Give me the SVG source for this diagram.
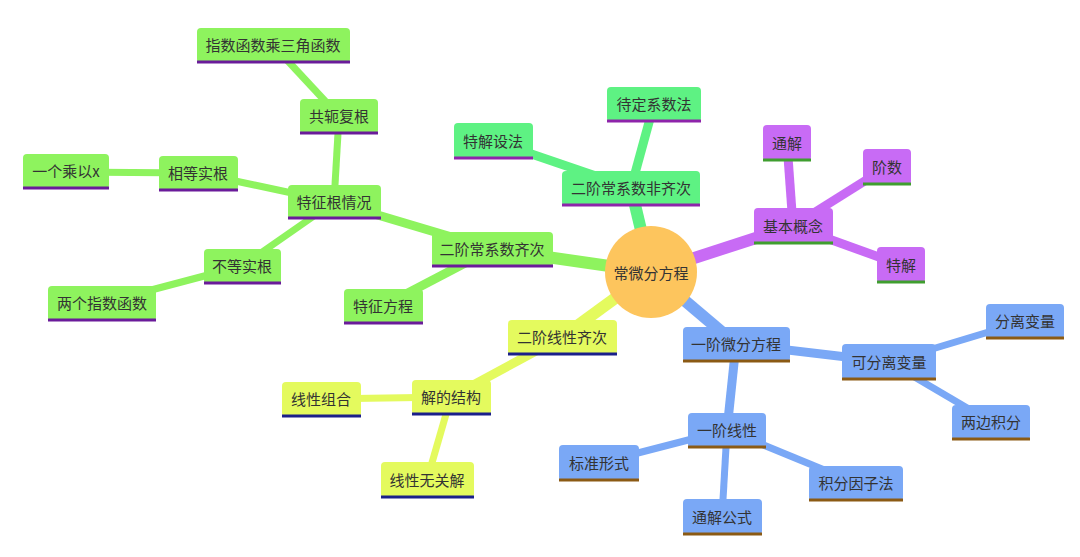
<svg xmlns="http://www.w3.org/2000/svg" width="1080" height="557" viewBox="0 0 1080 557">
<style>
text{font-family:"Noto Sans CJK SC","Liberation Sans",sans-serif;font-size:15px;fill:#333;text-anchor:middle;dominant-baseline:central}
.g rect{fill:#8ef35e}.g line{stroke:#6a1b9a}
.m rect{fill:#5ef283}.m line{stroke:#8e24aa}
.p rect{fill:#c86bf5}.p line{stroke:#3f9e2f}
.b rect{fill:#7aa8f6}.b line{stroke:#8b5a14}
.y rect{fill:#e4fa5e}.y line{stroke:#1a1f8a}
.n line{stroke-width:3}
#connectors line{fill:none;stroke-linecap:butt}
.cg{stroke:#8ef35e}.cm{stroke:#5ef283}.cp{stroke:#c86bf5}.cb{stroke:#7aa8f6}.cy{stroke:#e4fa5e}
.l1{stroke-width:12}.l2{stroke-width:9}.l3{stroke-width:7}
</style>
<rect width="1080" height="557" fill="#fff"/>
<g id="connectors">
<line class="cm l1" x1="651" y1="272" x2="631" y2="188"/>
<line class="cg l1" x1="651" y1="272" x2="492" y2="249"/>
<line class="cp l1" x1="651" y1="272" x2="793" y2="226"/>
<line class="cb l1" x1="651" y1="272" x2="736" y2="344"/>
<line class="cy l1" x1="651" y1="272" x2="562" y2="337"/>
<line class="cm l2" x1="631" y1="188" x2="654" y2="104"/>
<line class="cm l2" x1="631" y1="188" x2="493" y2="141"/>
<line class="cg l2" x1="492" y1="249" x2="334" y2="202"/>
<line class="cg l2" x1="492" y1="249" x2="383" y2="306"/>
<line class="cg l3" x1="334" y1="202" x2="339" y2="116"/>
<line class="cg l3" x1="334" y1="202" x2="198" y2="173"/>
<line class="cg l3" x1="334" y1="202" x2="242" y2="266"/>
<line class="cg l3" x1="339" y1="116" x2="273" y2="45"/>
<line class="cg l3" x1="198" y1="173" x2="66" y2="172"/>
<line class="cg l3" x1="242" y1="266" x2="102" y2="303"/>
<line class="cp l2" x1="793" y1="226" x2="787" y2="143"/>
<line class="cp l2" x1="793" y1="226" x2="887" y2="167"/>
<line class="cp l2" x1="793" y1="226" x2="901" y2="265"/>
<line class="cb l2" x1="736" y1="344" x2="889" y2="362"/>
<line class="cb l2" x1="736" y1="344" x2="727" y2="430"/>
<line class="cb l3" x1="889" y1="362" x2="1025" y2="321"/>
<line class="cb l3" x1="889" y1="362" x2="991" y2="422"/>
<line class="cb l3" x1="727" y1="430" x2="599" y2="463"/>
<line class="cb l3" x1="727" y1="430" x2="856" y2="483"/>
<line class="cb l3" x1="727" y1="430" x2="722" y2="517"/>
<line class="cy l2" x1="562" y1="337" x2="451" y2="397"/>
<line class="cy l3" x1="451" y1="397" x2="321" y2="399"/>
<line class="cy l3" x1="451" y1="397" x2="427" y2="480"/>
</g>
<g id="root"><circle cx="651" cy="272" r="46" fill="#fdc55d"/><text x="651" y="272">常微分方程</text></g>
<g id="n-fqcxs" class="n m"><rect x="562" y="171" width="138" height="35" rx="4"/><line x1="562" y1="205" x2="700" y2="205"/><text x="631" y="187">二阶常系数非齐次</text></g>
<g id="n-ddxsf" class="n m"><rect x="607" y="87" width="94" height="35" rx="4"/><line x1="607" y1="121" x2="701" y2="121"/><text x="654" y="103">待定系数法</text></g>
<g id="n-tjsf" class="n m"><rect x="454" y="123" width="79" height="36" rx="4"/><line x1="454" y1="158" x2="533" y2="158"/><text x="493" y="140">特解设法</text></g>
<g id="n-qc" class="n g"><rect x="432" y="232" width="121" height="35" rx="4"/><line x1="432" y1="266" x2="553" y2="266"/><text x="492" y="248">二阶常系数齐次</text></g>
<g id="n-tzgqk" class="n g"><rect x="288" y="185" width="93" height="34" rx="4"/><line x1="288" y1="218" x2="381" y2="218"/><text x="334" y="201">特征根情况</text></g>
<g id="n-tzfc" class="n g"><rect x="344" y="289" width="79" height="35" rx="4"/><line x1="344" y1="323" x2="423" y2="323"/><text x="383" y="305">特征方程</text></g>
<g id="n-gefg" class="n g"><rect x="300" y="99" width="78" height="35" rx="4"/><line x1="300" y1="133" x2="378" y2="133"/><text x="339" y="115">共轭复根</text></g>
<g id="n-zshs" class="n g"><rect x="197" y="28" width="153" height="35" rx="4"/><line x1="197" y1="62" x2="350" y2="62"/><text x="273" y="44">指数函数乘三角函数</text></g>
<g id="n-xdsg" class="n g"><rect x="159" y="156" width="79" height="35" rx="4"/><line x1="159" y1="190" x2="238" y2="190"/><text x="198" y="172">相等实根</text></g>
<g id="n-ygcyx" class="n g"><rect x="23" y="154" width="86" height="35" rx="4"/><line x1="23" y1="188" x2="109" y2="188"/><text x="66" y="170">一个乘以x</text></g>
<g id="n-bdsg" class="n g"><rect x="204" y="249" width="77" height="35" rx="4"/><line x1="204" y1="283" x2="281" y2="283"/><text x="242" y="265">不等实根</text></g>
<g id="n-lgzs" class="n g"><rect x="48" y="286" width="108" height="35" rx="4"/><line x1="48" y1="320" x2="156" y2="320"/><text x="102" y="302">两个指数函数</text></g>
<g id="n-jbgn" class="n p"><rect x="754" y="208" width="79" height="36" rx="4"/><line x1="754" y1="243" x2="833" y2="243"/><text x="793" y="225">基本概念</text></g>
<g id="n-tj" class="n p"><rect x="763" y="125" width="48" height="36" rx="4"/><line x1="763" y1="160" x2="811" y2="160"/><text x="787" y="142">通解</text></g>
<g id="n-js" class="n p"><rect x="863" y="149" width="48" height="36" rx="4"/><line x1="863" y1="184" x2="911" y2="184"/><text x="887" y="166">阶数</text></g>
<g id="n-tejie" class="n p"><rect x="877" y="247" width="48" height="36" rx="4"/><line x1="877" y1="282" x2="925" y2="282"/><text x="901" y="264">特解</text></g>
<g id="n-yjwf" class="n b"><rect x="683" y="327" width="107" height="35" rx="4"/><line x1="683" y1="361" x2="790" y2="361"/><text x="736" y="343">一阶微分方程</text></g>
<g id="n-kflbl" class="n b"><rect x="842" y="344" width="94" height="36" rx="4"/><line x1="842" y1="379" x2="936" y2="379"/><text x="889" y="361">可分离变量</text></g>
<g id="n-flbl" class="n b"><rect x="986" y="304" width="78" height="35" rx="4"/><line x1="986" y1="338" x2="1064" y2="338"/><text x="1025" y="320">分离变量</text></g>
<g id="n-lbjf" class="n b"><rect x="952" y="405" width="78" height="35" rx="4"/><line x1="952" y1="439" x2="1030" y2="439"/><text x="991" y="421">两边积分</text></g>
<g id="n-yjxx" class="n b"><rect x="688" y="413" width="78" height="35" rx="4"/><line x1="688" y1="447" x2="766" y2="447"/><text x="727" y="429">一阶线性</text></g>
<g id="n-bzxs" class="n b"><rect x="559" y="445" width="80" height="36" rx="4"/><line x1="559" y1="480" x2="639" y2="480"/><text x="599" y="462">标准形式</text></g>
<g id="n-jfyzf" class="n b"><rect x="809" y="466" width="94" height="35" rx="4"/><line x1="809" y1="500" x2="903" y2="500"/><text x="856" y="482">积分因子法</text></g>
<g id="n-tjgs" class="n b"><rect x="683" y="499" width="79" height="36" rx="4"/><line x1="683" y1="534" x2="762" y2="534"/><text x="722" y="516">通解公式</text></g>
<g id="n-exqc" class="n y"><rect x="508" y="320" width="109" height="35" rx="4"/><line x1="508" y1="354" x2="617" y2="354"/><text x="562" y="336">二阶线性齐次</text></g>
<g id="n-jdjg" class="n y"><rect x="412" y="380" width="79" height="35" rx="4"/><line x1="412" y1="414" x2="491" y2="414"/><text x="451" y="396">解的结构</text></g>
<g id="n-xxzh" class="n y"><rect x="282" y="382" width="79" height="35" rx="4"/><line x1="282" y1="416" x2="361" y2="416"/><text x="321" y="398">线性组合</text></g>
<g id="n-xxwgj" class="n y"><rect x="381" y="462" width="93" height="36" rx="4"/><line x1="381" y1="497" x2="474" y2="497"/><text x="427" y="479">线性无关解</text></g>
</svg>
